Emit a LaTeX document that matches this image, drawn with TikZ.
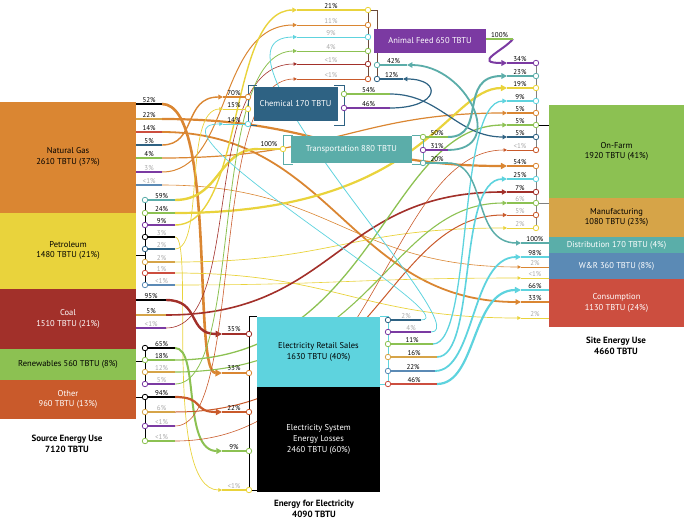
\documentclass[tikz,border=0pt]{standalone}
\usepackage{fontspec}
\setmainfont{PT Sans}
\usetikzlibrary{arrows.meta,calc}
\pgfdeclarelayer{bg}
\pgfsetlayers{bg,main}

\definecolor{cNG}{HTML}{DA8632}
\definecolor{cPet}{HTML}{E9D33C}
\definecolor{cCoal}{HTML}{A2302A}
\definecolor{cRen}{HTML}{8CC152}
\definecolor{cOth}{HTML}{C95A2B}
\definecolor{cFarm}{HTML}{8CC152}
\definecolor{cMan}{HTML}{D6A448}
\definecolor{cDist}{HTML}{5AAEA9}
\definecolor{cWR}{HTML}{5B8AB5}
\definecolor{cCons}{HTML}{CC4E3F}
\definecolor{cElec}{HTML}{5ED3DE}
\definecolor{cFeed}{HTML}{7B3AA2}
\definecolor{cChem}{HTML}{2E6283}
\definecolor{cTrans}{HTML}{5BADA9}
\definecolor{cGrey}{HTML}{A8A8A8}
\definecolor{cBrown}{HTML}{6B4A3A}

\newcommand{\bxfont}{\fontsize{8.5}{10.6}\selectfont}
\newcommand{\pcfont}{\fontsize{7}{8}\selectfont}
\newcommand{\capfont}{\fontsize{9}{11}\selectfont\bfseries}
\newcommand{\energyflow}[5]{%
  \draw[#1] (#2) .. controls ($(#2)+(#4,0)$) and ($(#3)+(#5,0)$) .. (#3);}

\begin{document}
\begin{tikzpicture}[x=1pt,y=-1pt,
    box/.style={inner sep=0pt, align=center, font=\bxfont},
    captxt/.style={align=center, font=\capfont},
    port/.style={circle, draw, fill=white, inner sep=0pt, minimum size=5.5pt, line width=0.8pt},
    pct/.style={font=\pcfont, text=black, inner sep=0.8pt, above},
    pctg/.style={pct, text=cGrey},
    stub/.style={line width=1.3pt},
    brk/.style={line width=0.7pt},
    ln/.style={line width=#1},
    fl/.style={line width=#1, -{Triangle[length=2.5pt 1.6,width=2.5pt 1.6]}}]
\useasboundingbox (0,0) rectangle (685,525);

% source boxes
\node[box, fill=cNG, minimum width=136pt, minimum height=111pt] (ng) at (68,157) {Natural Gas\\2610 TBTU (37\%)};
\node[box, fill=cPet, minimum width=136pt, minimum height=76pt] (pet) at (68,250.5) {Petroleum\\1480 TBTU (21\%)};
\node[box, fill=cCoal, text=white, minimum width=136pt, minimum height=60.5pt] (coal) at (68,318.75) {Coal\\1510 TBTU (21\%)};
\node[box, fill=cRen, minimum width=136pt, minimum height=30.5pt] (ren) at (68,364.25) {Renewables 560 TBTU (8\%)};
\node[box, fill=cOth, text=white, minimum width=136pt, minimum height=39.5pt] (oth) at (68,399.25) {Other\\960 TBTU (13\%)};
\node[captxt] (srccap) at (67,444) {Source Energy Use\\7120 TBTU};

% site boxes
\node[box, fill=cFarm, minimum width=135pt, minimum height=93.5pt] (farm) at (616.5,151.25) {On-Farm\\1920 TBTU (41\%)};
\node[box, fill=cMan, minimum width=135pt, minimum height=38.5pt] (man) at (616.5,217.25) {Manufacturing\\1080 TBTU (23\%)};
\node[box, fill=cDist, text=white, minimum width=135pt, minimum height=16.8pt] (dist) at (616.5,244.9) {Distribution 170 TBTU (4\%)};
\node[box, fill=cWR, text=white, minimum width=135pt, minimum height=25.7pt] (wr) at (616.5,266.15) {W\&R 360 TBTU (8\%)};
\node[box, fill=cCons, text=white, minimum width=135pt, minimum height=48pt] (cons) at (616.5,303) {Consumption\\1130 TBTU (24\%)};
\node[captxt] (sitecap) at (616,346) {Site Energy Use\\4660 TBTU};

% middle boxes
\node[box, fill=cElec, minimum width=123pt, minimum height=70pt] (elec) at (318.5,352) {Electricity Retail Sales\\1630 TBTU (40\%)};
\node[box, fill=black, text=white, minimum width=123pt, minimum height=105pt] (loss) at (318.5,439.5) {Electricity System\\Energy Losses\\2460 TBTU (60\%)};
\node[captxt] (eleccap) at (314,509) {Energy for Electricity\\4090 TBTU};
\node[box, fill=cFeed, text=white, minimum width=112pt, minimum height=24.5pt] (feed) at (430,40.75) {Animal Feed 650 TBTU};
\node[box, fill=cChem, text=white, minimum width=84pt, minimum height=34pt] (chem) at (295.5,104) {Chemical 170 TBTU};
\node[box, fill=cTrans, text=white, minimum width=121pt, minimum height=26.5pt] (trans) at (351.5,149.25) {Transportation 880 TBTU};

% ports
\node[port, draw=cTrans] (p1) at (145,200) {};
\node[port, draw=cFarm] (p2) at (145,213) {};
\node[port, draw=cFeed] (p3) at (145,225) {};
\node[port, draw=black] (p4) at (145,237) {};
\node[port, draw=cChem] (p5) at (145,249) {};
\node[port, draw=cMan] (p6) at (145,262) {};
\node[port, draw=cCons] (p7) at (145,273) {};
\node[port, draw=cWR] (p8) at (145,285) {};
\node[port, draw=black] (r1) at (145,348) {};
\node[port, draw=cFarm] (r2) at (145,360) {};
\node[port, draw=cMan] (r3) at (145,372) {};
\node[port, draw=cFeed] (r4) at (145,384) {};
\node[port, draw=black] (o1) at (145,397) {};
\node[port, draw=cMan] (o2) at (145,412) {};
\node[port, draw=cFeed] (o3) at (145,426) {};
\node[port, draw=cFarm] (o4) at (145,441) {};

\node[port, draw=cCoal] (e1) at (249,334) {};
\node[port, draw=cNG] (e2) at (249,373) {};
\node[port, draw=cOth] (e3) at (249,412) {};
\node[port, draw=cRen] (e4) at (249,451) {};
\node[port, draw=cPet] (e5) at (249,490) {};
\node[port, draw=cChem] (eo1) at (388,320) {};
\node[port, draw=cFeed] (eo2) at (388,332) {};
\node[port, draw=cFarm] (eo3) at (388,344) {};
\node[port, draw=cMan] (eo4) at (388,357) {};
\node[port, draw=cWR] (eo5) at (388,371) {};
\node[port, draw=cCons] (eo6) at (388,384) {};

\node[port, draw=cNG] (ch1) at (248,97) {};
\node[port, draw=cPet] (ch2) at (248,109) {};
\node[port, draw=cElec] (ch3) at (248,124) {};
\node[port, draw=cFarm] (cho1) at (344,94) {};
\node[port, draw=cFeed] (cho2) at (344,108) {};
\node[port, draw=cPet] (tr1) at (283,149) {};
\node[port, draw=cFarm] (tro1) at (423,137) {};
\node[port, draw=cFeed] (tro2) at (423,150) {};
\node[port, draw=cDist] (tro3) at (423,163) {};

\node[port, draw=cPet] (af1) at (368,10) {};
\node[port, draw=cNG] (af2) at (368,25) {};
\node[port, draw=cElec] (af3) at (368,37) {};
\node[port, draw=cRen] (af4) at (368,51) {};
\node[port, draw=cCoal] (af5) at (368,64) {};
\node[port, draw=cOth] (af6) at (368,79) {};
\node[port, draw=cTrans] (af7) at (377,65) {};
\node[port, draw=cChem] (af8) at (377,79) {};

\node[port, draw=cFeed] (f1) at (536,63) {};
\node[port, draw=cTrans] (f2) at (536,76) {};
\node[port, draw=cPet] (f3) at (536,88) {};
\node[port, draw=cElec] (f4) at (536,101) {};
\node[port, draw=cNG] (f5) at (536,113) {};
\node[port, draw=cRen] (f6) at (536,125) {};
\node[port, draw=cChem] (f7) at (536,137) {};
\node[port, draw=cOth] (f8) at (536,150) {};
\node[port, draw=cNG] (m1) at (536,166) {};
\node[port, draw=cElec] (m2) at (536,179) {};
\node[port, draw=cCoal] (m3) at (536,192) {};
\node[port, draw=cRen] (m4) at (536,203) {};
\node[port, draw=cOth] (m5) at (536,215) {};
\node[port, draw=cPet] (m6) at (536,228) {};

% stub ends and arrow tips
\coordinate (ng1) at (162,104);
\coordinate (ng2) at (162,119);
\coordinate (ng3) at (162,132);
\coordinate (ng4) at (162,145);
\coordinate (ng5) at (162,158);
\coordinate (ng6) at (162,172);
\coordinate (ng7) at (162,185);
\coordinate (c1) at (166,300);
\coordinate (c2) at (166,315);
\coordinate (c3) at (166,328);
\coordinate (pebr) at (145,255);
\coordinate (rebr) at (145,361);
\coordinate (p1e) at (175,200);
\coordinate (p2e) at (175,213);
\coordinate (p3e) at (175,225);
\coordinate (p4e) at (175,237);
\coordinate (p5e) at (175,249);
\coordinate (p6e) at (175,262);
\coordinate (p7e) at (175,273);
\coordinate (p8e) at (175,285);
\coordinate (r1e) at (175,348);
\coordinate (r2e) at (175,360);
\coordinate (r3e) at (175,372);
\coordinate (r4e) at (175,384);
\coordinate (o1e) at (175,397);
\coordinate (o2e) at (175,412);
\coordinate (o3e) at (175,426);
\coordinate (o4e) at (175,441);
\coordinate (e1a) at (222,334);
\coordinate (e2a) at (222,373);
\coordinate (e3a) at (222,412);
\coordinate (e4a) at (222,451);
\coordinate (e5a) at (222,490);
\coordinate (eo1e) at (421,320);
\coordinate (eo2e) at (431,332);
\coordinate (eo3e) at (433,344);
\coordinate (eo4e) at (437,357);
\coordinate (eo5e) at (435,371);
\coordinate (eo6e) at (437,384);
\coordinate (ch1a) at (223,97);
\coordinate (ch2a) at (223,109);
\coordinate (ch3a) at (223,124);
\coordinate (cho1e) at (390,94);
\coordinate (cho2e) at (390,108);
\coordinate (tr1a) at (258,149);
\coordinate (tro1e) at (448,137);
\coordinate (tro2e) at (448,150);
\coordinate (tro3e) at (448,163);
\coordinate (af1a) at (297,10);
\coordinate (af2a) at (297,25);
\coordinate (af3a) at (297,37);
\coordinate (af4a) at (297,51);
\coordinate (af5a) at (297,64);
\coordinate (af6a) at (297,79);
\coordinate (af7a) at (407,65);
\coordinate (af8a) at (403,79);
\coordinate (afo) at (513,39);
\coordinate (f1a) at (507,63);
\coordinate (f2a) at (507,76);
\coordinate (f3a) at (507,88);
\coordinate (f4a) at (507,101);
\coordinate (f5a) at (507,113);
\coordinate (f6a) at (507,125);
\coordinate (f7a) at (507,137);
\coordinate (f8a) at (507,150);
\coordinate (m1a) at (507,166);
\coordinate (m2a) at (507,179);
\coordinate (m3a) at (507,192);
\coordinate (m4a) at (507,203);
\coordinate (m5a) at (507,215);
\coordinate (m6a) at (507,228);
\coordinate (d1a) at (521,243);
\coordinate (w1a) at (521,257);
\coordinate (w2a) at (521,267);
\coordinate (w3a) at (521,278);
\coordinate (k1a) at (521,290);
\coordinate (k2a) at (521,302);
\coordinate (k3a) at (521,318);

\begin{pgfonlayer}{bg}
% natural gas
\energyflow{cNG,fl=2.6pt}{ng1}{e2a}{55}{-30}
\energyflow{cNG,fl=2.2pt}{ng2}{m1a}{160}{-160}
\energyflow{cNG,fl=1.8pt}{ng3}{k2a}{170}{-170}
\energyflow{cNG,fl=1.4pt}{ng4}{ch1a}{35}{-40}
\energyflow{cNG,fl=1.2pt}{ng5}{f5a}{170}{-150}
\energyflow{cNG,fl=1.0pt}{ng6}{af2a}{70}{-80}
\energyflow{cNG,fl=0.6pt}{ng7}{w2a}{170}{-170}
% petroleum
\energyflow{cPet,ln=2.4pt}{p1e}{tr1a}{45}{-40}
\energyflow{cPet,fl=2.2pt}{p2e}{f3a}{250}{-60}
\energyflow{cPet,fl=1.4pt}{p3e}{af1a}{70}{-70}
\energyflow{cPet,fl=0.7pt}{p4e}{e5a}{20}{-60}
\energyflow{cPet,fl=0.7pt}{p5e}{ch2a}{30}{-40}
\energyflow{cPet,fl=0.7pt}{p6e}{m6a}{160}{-160}
\energyflow{cPet,fl=0.7pt}{p7e}{k3a}{160}{-160}
\energyflow{cPet,fl=0.6pt}{p8e}{w3a}{160}{-160}
% coal
\energyflow{cCoal,fl=2.4pt}{c1}{e1a}{35}{-35}
\energyflow{cCoal,fl=1.6pt}{c2}{m3a}{170}{-170}
\energyflow{cCoal,fl=0.6pt}{c3}{af5a}{80}{-100}
% renewables
\energyflow{cRen,fl=2.0pt}{r1e}{e4a}{25}{-40}
\energyflow{cRen,fl=1.3pt}{r2e}{f6a}{200}{-120}
\energyflow{cRen,fl=1.1pt}{r3e}{m4a}{200}{-120}
\energyflow{cRen,fl=0.8pt}{r4e}{af4a}{70}{-90}
% other
\energyflow{cOth,fl=2.2pt}{o1e}{e3a}{30}{-30}
\energyflow{cOth,fl=1.0pt}{o2e}{m5a}{200}{-120}
\energyflow{cOth,fl=0.6pt}{o3e}{af6a}{70}{-90}
\energyflow{cOth,fl=0.6pt}{o4e}{f8a}{200}{-120}
% electricity retail sales
\energyflow{cElec,fl=0.7pt}{eo1e}{ch3a}{50}{-90}
\energyflow{cElec,fl=0.8pt}{eo2e}{af3a}{50}{-110}
\energyflow{cElec,fl=1.3pt}{eo3e}{f4a}{40}{-50}
\energyflow{cElec,fl=1.6pt}{eo4e}{m2a}{40}{-50}
\energyflow{cElec,fl=1.8pt}{eo5e}{w1a}{40}{-50}
\energyflow{cElec,fl=2.2pt}{eo6e}{k1a}{40}{-50}
% chemical, transportation, animal feed
\energyflow{cChem,fl=1.2pt}{cho1e}{f7a}{50}{-50}
\energyflow{cChem,fl=1.2pt}{cho2e}{af8a}{50}{40}
\energyflow{cTrans,fl=2.0pt}{tro1e}{f2a}{40}{-50}
\energyflow{cTrans,fl=1.8pt}{tro2e}{af7a}{60}{60}
\energyflow{cTrans,fl=1.5pt}{tro3e}{d1a}{40}{-50}
\draw[cFeed,fl=2.0pt] (afo) .. controls ($(afo)+(-10,12)$) and ($(f1a)+(-35,0)$) .. (f1a);

% brackets
\draw[brk] (p1.center) -- (p8.center);
\draw[brk] (pet.east |- pebr) -- (pebr);
\draw[brk] (r1.center) -- (r4.center);
\draw[brk] (ren.east |- rebr) -- (rebr);
\draw[brk] (o1.center) -- (o4.center);
\draw[brk] (elec.north west) -- (e1.center |- elec.north) -- (e5.center) -- (loss.west |- e5);
\draw[brk,cElec] (elec.north east) -- (eo1.center |- elec.north) -- (eo6.center) -- (elec.east |- eo6);
\draw[brk,cChem] (257,85) -- (ch1.center |- 0,85) -- (248,125) -- (257,125);
\draw[brk,cChem] (334,85) -- (cho1.center |- 0,85) -- (344,125) -- (334,125);
\draw[brk,cTrans] (293,135) -- (tr1.center |- 0,135) -- (283,164) -- (293,164);
\draw[brk,cTrans] (412,135) -- (tro1.center |- 0,135) -- (423,164) -- (412,164);
\draw[brk,cBrown] (af1.center) -- (af6.center);
\draw[brk,cBrown] (af1.center) -- (af7.center |- af1) -- (af8.center);
\draw[brk,gray] (f1.center) -- (f8.center);
\draw[brk,gray] (m1.center) -- (m6.center);
\end{pgfonlayer}

% source stubs
\draw[stub,black] (ng.east |- ng1) -- node[pct]{52\%} (ng1);
\draw[stub,cMan] (ng.east |- ng2) -- node[pct]{22\%} (ng2);
\draw[stub,cCons] (ng.east |- ng3) -- node[pct]{14\%} (ng3);
\draw[stub,cChem] (ng.east |- ng4) -- node[pct]{5\%} (ng4);
\draw[stub,cFarm] (ng.east |- ng5) -- node[pct]{4\%} (ng5);
\draw[stub,cFeed] (ng.east |- ng6) -- node[pctg]{3\%} (ng6);
\draw[stub,cWR] (ng.east |- ng7) -- node[pctg]{<1\%} (ng7);
\draw[stub,cTrans] (p1) -- node[pct]{59\%} (p1e);
\draw[stub,cFarm] (p2) -- node[pct]{24\%} (p2e);
\draw[stub,cFeed] (p3) -- node[pct]{9\%} (p3e);
\draw[stub,black] (p4) -- node[pctg]{3\%} (p4e);
\draw[stub,cChem] (p5) -- node[pctg]{2\%} (p5e);
\draw[stub,cMan] (p6) -- node[pctg]{2\%} (p6e);
\draw[stub,cCons] (p7) -- node[pctg]{1\%} (p7e);
\draw[stub,cWR] (p8) -- node[pctg]{<1\%} (p8e);
\draw[stub,black] (coal.east |- c1) -- node[pct]{95\%} (c1);
\draw[stub,cMan] (coal.east |- c2) -- node[pct]{5\%} (c2);
\draw[stub,cFeed] (coal.east |- c3) -- node[pctg]{<1\%} (c3);
\draw[stub,black] (r1) -- node[pct]{65\%} (r1e);
\draw[stub,cFarm] (r2) -- node[pct]{18\%} (r2e);
\draw[stub,cMan] (r3) -- node[pctg]{12\%} (r3e);
\draw[stub,cFeed] (r4) -- node[pctg]{5\%} (r4e);
\draw[brk] (oth.east |- o1) -- (o1);
\draw[stub,black] (o1) -- node[pct]{94\%} (o1e);
\draw[stub,cMan] (o2) -- node[pctg]{6\%} (o2e);
\draw[stub,cFeed] (o3) -- node[pctg]{<1\%} (o3e);
\draw[stub,cFarm] (o4) -- node[pctg]{<1\%} (o4e);

% electricity
\draw[cCoal,ln=2.4pt] (e1a) -- node[pct]{35\%} (e1);
\draw[cNG,ln=2.6pt] (e2a) -- node[pct]{33\%} (e2);
\draw[cOth,ln=2.2pt] (e3a) -- node[pct]{22\%} (e3);
\draw[cRen,ln=2.0pt] (e4a) -- node[pct]{9\%} (e4);
\draw[cPet,ln=1.6pt] (e5a) -- node[pctg]{<1\%} (e5);
\draw[stub,cChem] (eo1) -- node[pctg]{2\%} (eo1e);
\draw[stub,cFeed] (eo2) -- node[pctg]{4\%} (eo2e);
\draw[stub,cFarm] (eo3) -- node[pct]{11\%} (eo3e);
\draw[stub,cMan] (eo4) -- node[pct]{16\%} (eo4e);
\draw[stub,cWR] (eo5) -- node[pct]{22\%} (eo5e);
\draw[stub,cCons] (eo6) -- node[pct]{46\%} (eo6e);

% chemical and transportation
\draw[cNG,ln=1.4pt] (ch1a) -- node[pct]{70\%} (ch1);
\draw[cPet,ln=0.9pt] (ch2a) -- node[pct]{15\%} (ch2);
\draw[cElec,ln=0.9pt] (ch3a) -- node[pct]{14\%} (ch3);
\draw[stub,cFarm] (cho1) -- node[pct]{54\%} (cho1e);
\draw[stub,cFeed] (cho2) -- node[pct]{46\%} (cho2e);
\draw[cPet,ln=2.4pt] (tr1a) -- node[pct]{100\%} (tr1);
\draw[stub,cFarm] (tro1) -- node[pct]{50\%} (tro1e);
\draw[stub,cFeed] (tro2) -- node[pct]{31\%} (tro2e);
\draw[stub,cDist] (tro3) -- node[pct]{20\%} (tro3e);

% animal feed
\draw[cPet,ln=1.4pt] (af1a) -- node[pct]{21\%} (af1);
\draw[cNG,ln=1.0pt] (af2a) -- node[pctg]{11\%} (af2);
\draw[cElec,ln=0.8pt] (af3a) -- node[pctg]{9\%} (af3);
\draw[cRen,ln=0.8pt] (af4a) -- node[pctg]{4\%} (af4);
\draw[cCoal,ln=0.8pt] (af5a) -- node[pctg]{<1\%} (af5);
\draw[cOth,ln=0.8pt] (af6a) -- node[pctg]{<1\%} (af6);
\draw[cTrans,ln=1.8pt] (af7a) -- node[pct]{42\%} (af7);
\draw[cChem,ln=1.2pt] (af8a) -- node[pct]{12\%} (af8);
\draw[stub,cFarm] (feed.east |- afo) -- node[pct]{100\%} (afo);

% site inputs
\draw[cFeed,ln=2.0pt] (f1a) -- node[pct]{34\%} (f1);
\draw[cTrans,ln=2.0pt] (f2a) -- node[pct]{23\%} (f2);
\draw[cPet,ln=2.2pt] (f3a) -- node[pct]{19\%} (f3);
\draw[cElec,ln=1.3pt] (f4a) -- node[pct]{9\%} (f4);
\draw[cNG,ln=1.2pt] (f5a) -- node[pct]{5\%} (f5);
\draw[cRen,ln=1.3pt] (f6a) -- node[pct]{5\%} (f6);
\draw[cChem,ln=1.2pt] (f7a) -- node[pct]{5\%} (f7);
\draw[cOth,ln=0.8pt] (f8a) -- node[pctg]{<1\%} (f8);
\draw[brk] (f6) -- (farm.west |- f6);
\draw[cNG,ln=2.2pt] (m1a) -- node[pct]{54\%} (m1);
\draw[cElec,ln=1.6pt] (m2a) -- node[pct]{25\%} (m2);
\draw[cCoal,ln=1.6pt] (m3a) -- node[pct]{7\%} (m3);
\draw[cRen,ln=1.1pt] (m4a) -- node[pctg]{6\%} (m4);
\draw[cOth,ln=1.0pt] (m5a) -- node[pctg]{5\%} (m5);
\draw[cPet,ln=0.8pt] (m6a) -- node[pctg]{2\%} (m6);
\draw[brk,gray] (m4) -- (man.west |- m4);
\draw[cTrans,ln=1.5pt] (d1a) -- node[pct]{100\%} (dist.west |- d1a);
\draw[cElec,ln=1.8pt] (w1a) -- node[pct]{98\%} (wr.west |- w1a);
\draw[cNG,ln=0.8pt] (w2a) -- node[pctg]{2\%} (wr.west |- w2a);
\draw[cPet,ln=0.8pt] (w3a) -- node[pctg]{<1\%} (wr.west |- w3a);
\draw[cElec,ln=2.2pt] (k1a) -- node[pct]{66\%} (cons.west |- k1a);
\draw[cNG,ln=1.8pt] (k2a) -- node[pct]{33\%} (cons.west |- k2a);
\draw[cPet,ln=0.8pt] (k3a) -- node[pctg]{2\%} (cons.west |- k3a);
\end{tikzpicture}
\end{document}
